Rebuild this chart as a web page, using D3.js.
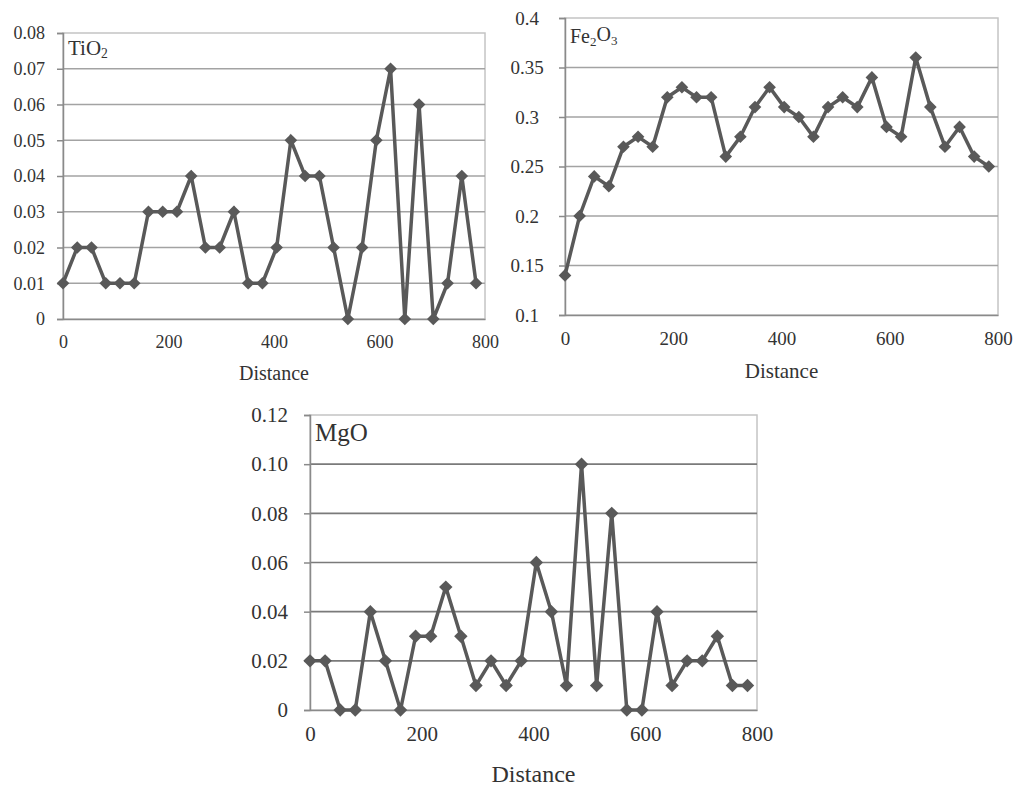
<!DOCTYPE html>
<html>
<head>
<meta charset="utf-8">
<script src="https://cdn.jsdelivr.net/npm/d3@7"></script>
<style>
  body { margin: 0; background: #fff; }
  svg { display: block; }
  text { font-family: "Liberation Serif", "Times New Roman", serif; fill: #333; }
</style>
</head>
<body>
<svg id="chart" width="1015" height="786"></svg>
<script>
// distance along the profile (same sampling for the three oxides)
const distance = [0, 27, 54, 81, 108, 135, 162, 189, 216, 243, 270, 297, 324, 351, 378,
                  405, 432, 459, 486, 513, 540, 567, 594, 621, 648, 675, 702, 729, 756, 783]

const tio2 = [0.01, 0.02, 0.02, 0.01, 0.01, 0.01, 0.03, 0.03, 0.03, 0.04, 0.02, 0.02, 0.03, 0.01, 0.01,
              0.02, 0.05, 0.04, 0.04, 0.02, 0, 0.02, 0.05, 0.07, 0, 0.06, 0, 0.01, 0.04, 0.01]

const fe2o3 = [0.14, 0.20, 0.24, 0.23, 0.27, 0.28, 0.27, 0.32, 0.33, 0.32, 0.32, 0.26, 0.28, 0.31, 0.33,
               0.31, 0.30, 0.28, 0.31, 0.32, 0.31, 0.34, 0.29, 0.28, 0.36, 0.31, 0.27, 0.29, 0.26, 0.25]

const mgo = [0.02, 0.02, 0, 0, 0.04, 0.02, 0, 0.03, 0.03, 0.05, 0.03, 0.01, 0.02, 0.01, 0.02,
             0.06, 0.04, 0.01, 0.10, 0.01, 0.08, 0, 0, 0.04, 0.01, 0.02, 0.02, 0.03, 0.01, 0.01]

const xTicks = [0, 200, 400, 600, 800]
const tio2Ticks = [0, 0.01, 0.02, 0.03, 0.04, 0.05, 0.06, 0.07, 0.08]
const tio2Labels = ['0', '0.01', '0.02', '0.03', '0.04', '0.05', '0.06', '0.07', '0.08']
const fe2o3Ticks = [0.1, 0.15, 0.2, 0.25, 0.3, 0.35, 0.4]
const fe2o3Labels = ['0.1', '0.15', '0.2', '0.25', '0.3', '0.35', '0.4']
const mgoTicks = [0, 0.02, 0.04, 0.06, 0.08, 0.10, 0.12]
const mgoLabels = ['0', '0.02', '0.04', '0.06', '0.08', '0.10', '0.12']

const svg = d3.select('#chart')

function panel(p) {
    const x = d3.scaleLinear().domain([0, 800]).range([p.left, p.right])
    const y = d3.scaleLinear().domain([p.yTicks[0], p.yTicks[p.yTicks.length - 1]]).range([p.bottom, p.top])
    const g = svg.append('g')

    // frame
    g.append('rect')
        .attr('x', p.left).attr('y', p.top)
        .attr('width', p.right - p.left).attr('height', p.bottom - p.top)
        .attr('fill', 'none').attr('stroke', '#c4c4c4').attr('stroke-width', 1.5)

    // horizontal gridlines
    g.selectAll('line.grid')
        .data(p.yTicks.slice(1, -1))
        .enter()
        .append('line')
        .attr('x1', p.left).attr('x2', p.right)
        .attr('y1', d => y(d)).attr('y2', d => y(d))
        .attr('stroke', p.gridColor).attr('stroke-width', 1.6)

    // y axis
    const ya = g.append('g')
        .attr('transform', `translate(${p.left},0)`)
        .call(d3.axisLeft(y).tickValues(p.yTicks).tickFormat((d, i) => p.yLabels[i]).tickSize(6).tickPadding(p.yPad))
    ya.select('.domain').attr('stroke', '#8a8a8a').attr('stroke-width', 1.5)
    ya.selectAll('.tick line').attr('stroke', '#8a8a8a').attr('stroke-width', 1.5)
    ya.selectAll('.tick text')
        .style('font-size', p.tickSize + 'px')
        .style('font-family', '"Liberation Serif", serif')
        .attr('fill', p.textColor)
        .attr('text-anchor', p.yAnchor)

    // x axis
    const xa = g.append('g')
        .attr('transform', `translate(0,${p.bottom})`)
        .call(d3.axisBottom(x).tickValues(xTicks).tickFormat(d3.format('d')).tickSize(0).tickPadding(p.xPad))
    xa.select('.domain').attr('stroke', '#8a8a8a').attr('stroke-width', 1.6)
    xa.selectAll('.tick text')
        .style('font-size', p.tickSize + 'px')
        .style('font-family', '"Liberation Serif", serif')
        .attr('fill', p.textColor)

    g.append('text')
        .attr('x', (p.left + p.right) / 2 + p.titleShift)
        .attr('y', p.distY)
        .attr('text-anchor', 'middle')
        .style('font-size', p.distSize + 'px')
        .attr('fill', p.textColor)
        .text('Distance')

    // series
    const pts = distance.map((d, i) => [d, p.values[i]])
    g.append('path')
        .datum(pts)
        .attr('fill', 'none')
        .attr('stroke', '#595959')
        .attr('stroke-width', 3.5)
        .attr('stroke-linejoin', 'miter')
        .attr('d', d3.line().x(d => x(d[0])).y(d => y(d[1])))

    g.selectAll('path.mark')
        .data(pts)
        .enter()
        .append('path')
        .attr('d', d3.symbol(d3.symbolSquare, p.markSize))
        .attr('transform', d => `translate(${x(d[0])},${y(d[1])}) rotate(45)`)
        .attr('fill', '#595959')

    // oxide label
    const t = g.append('text')
        .attr('x', p.left + 5)
        .attr('y', p.top + p.nameDy)
        .style('font-size', p.nameSize + 'px')
        .attr('fill', p.textColor)
    p.name.forEach(part => {
        t.append('tspan')
            .attr('dy', part[1] ? '0.25em' : (part[2] ? '-0.25em' : null))
            .style('font-size', part[1] ? (p.nameSize * 0.65) + 'px' : null)
            .text(part[0])
    })
}

panel({
    values: tio2, yTicks: tio2Ticks, yLabels: tio2Labels,
    left: 63, right: 485, top: 33, bottom: 319,
    yPad: 12, yAnchor: 'end', xPad: 16, tickSize: 18,
    distY: 380, distSize: 20, titleShift: 0,
    name: [['TiO'], ['2', true]], nameSize: 21, nameDy: 22,
    gridColor: '#a3a3a3', textColor: '#3a3a3a', markSize: 80
})

panel({
    values: fe2o3, yTicks: fe2o3Ticks, yLabels: fe2o3Labels,
    left: 565, right: 998, top: 18, bottom: 315,
    yPad: 32, yAnchor: 'middle', xPad: 17, tickSize: 19,
    distY: 378, distSize: 21, titleShift: 0,
    name: [['Fe'], ['2', true], ['O', false, true], ['3', true]], nameSize: 20, nameDy: 25,
    gridColor: '#a3a3a3', textColor: '#3a3a3a', markSize: 80
})

panel({
    values: mgo, yTicks: mgoTicks, yLabels: mgoLabels,
    left: 310, right: 757, top: 415, bottom: 710,
    yPad: 16, yAnchor: 'end', xPad: 16, tickSize: 21,
    distY: 782, distSize: 24, titleShift: 0,
    name: [['MgO']], nameSize: 25, nameDy: 26,
    gridColor: '#7a7a7a', textColor: '#222', markSize: 90
})
</script>
</body>
</html>
